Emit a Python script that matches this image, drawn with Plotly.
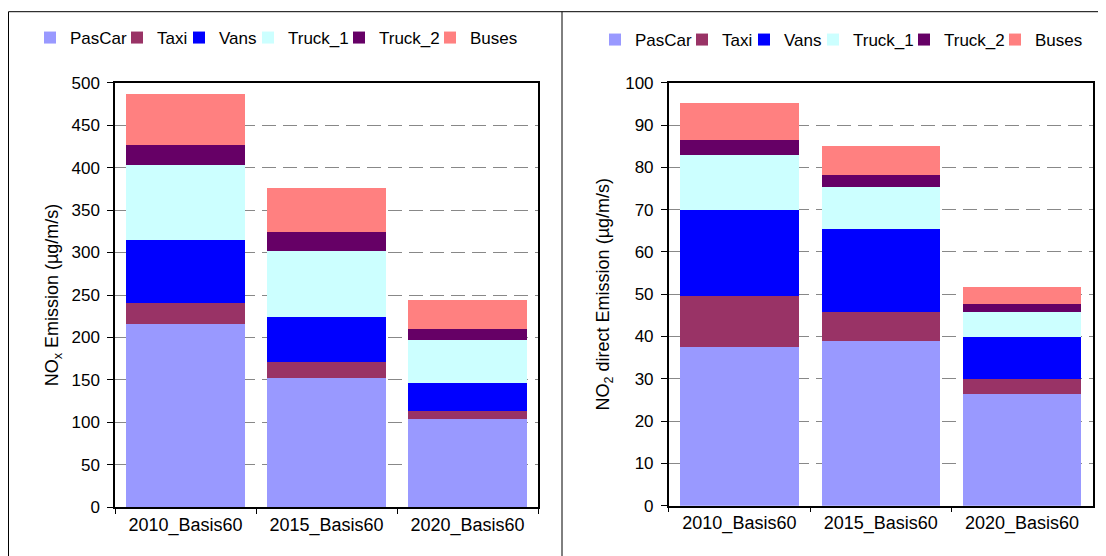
"""Stacked bar charts of NOx and NO2 direct emissions by vehicle type."""

import plotly.graph_objects as go

# Scenarios on the x axis
categories = ["2010_Basis60", "2015_Basis60", "2020_Basis60"]
vehicle_types = ["PasCar", "Taxi", "Vans", "Truck_1", "Truck_2", "Buses"]

# NOx emission (ug/m/s)
nox_pascar = [216, 152.5, 104]
nox_taxi = [25, 19, 9.5]
nox_vans = [74, 53, 33]
nox_truck1 = [88, 77, 51]
nox_truck2 = [24, 22.5, 13]
nox_buses = [60, 52, 34]

# NO2 direct emission (ug/m/s)
no2_pascar = [37.4, 39.0, 26.5]
no2_taxi = [12.1, 6.9, 3.4]
no2_vans = [20.3, 19.4, 10.1]
no2_truck1 = [13.1, 10.0, 5.9]
no2_truck2 = [3.5, 2.8, 1.9]
no2_buses = [8.8, 6.9, 4.0]

nox_series = [nox_pascar, nox_taxi, nox_vans, nox_truck1, nox_truck2, nox_buses]
no2_series = [no2_pascar, no2_taxi, no2_vans, no2_truck1, no2_truck2, no2_buses]

colors = ["#9999FF", "#993366", "#0000FF", "#CCFFFF", "#660066", "#FF8080"]
# legend entry widths so the items sit about as tight as in the original
legend_widths = [42, 17, 24, 46, 46, 47]

# the page body has an 8px margin, so the figure is drawn 8px in from the window edge
OFF = 8
W, H = 1106 - OFF, 556 - OFF
FONT = "Liberation Sans, Arial, sans-serif"


def px_x(p):
    """Window pixel column -> paper fraction."""
    return (p - OFF) / W


def px_y(p):
    """Window pixel row -> paper fraction."""
    return 1 - (p - OFF) / H


fig = go.Figure()

for name, vals, col, lw in zip(vehicle_types, nox_series, colors, legend_widths):
    fig.add_trace(
        go.Bar(
            x=categories, y=vals, name=name, marker=dict(color=col, line=dict(width=0)),
            xaxis="x", yaxis="y", legend="legend", legendwidth=lw,
        )
    )

for name, vals, col, lw in zip(vehicle_types, no2_series, colors, legend_widths):
    fig.add_trace(
        go.Bar(
            x=categories, y=vals, name=name, marker=dict(color=col, line=dict(width=0)),
            xaxis="x2", yaxis="y2", legend="legend2", legendwidth=lw,
        )
    )

xaxis_style = dict(
    showline=True, mirror=True, linecolor="black", linewidth=1.5,
    ticks="outside", tickson="boundaries", ticklen=5, tickcolor="black",
    showgrid=False, zeroline=False, automargin=False, ticklabelstandoff=0,
    tickfont=dict(size=18, color="black"),
)
yaxis_style = dict(
    showline=True, mirror=True, linecolor="black", linewidth=1.5,
    ticks="outside", ticklen=6, tickcolor="black", ticklabelstandoff=4,
    showgrid=True, gridcolor="#888888", gridwidth=1, griddash="14px,7px",
    zeroline=False, automargin=False,
    tickfont=dict(size=17, color="black"),
)

legend_style = dict(
    orientation="h", xanchor="left", yanchor="middle",
    font=dict(size=17, color="black"), bgcolor="rgba(0,0,0,0)",
    traceorder="normal",
)

fig.update_layout(
    width=W, height=H,
    margin=dict(l=0, r=0, t=0, b=0, autoexpand=False),
    paper_bgcolor="white", plot_bgcolor="white",
    font=dict(family=FONT, size=17, color="black"),
    barmode="stack", bargap=0.163,
    xaxis=dict(domain=[px_x(115), px_x(538)], anchor="y", **xaxis_style),
    yaxis=dict(
        domain=[px_y(507.3), px_y(82.7)], anchor="x", range=[0, 500], dtick=50,
        title=dict(text="NO<sub>x</sub> Emission (µg/m/s)", font=dict(size=18), standoff=8),
        **yaxis_style,
    ),
    xaxis2=dict(domain=[px_x(668.7), px_x(1092.7)], anchor="y2", **xaxis_style),
    yaxis2=dict(
        domain=[px_y(505.7), px_y(82.7)], anchor="x2", range=[0, 100], dtick=10,
        title=dict(text="NO<sub>2</sub> direct Emission (µg/m/s)", font=dict(size=18), standoff=11),
        **yaxis_style,
    ),
    legend=dict(x=px_x(30), y=px_y(38), **legend_style),
    legend2=dict(x=px_x(595), y=px_y(40), **legend_style),
    showlegend=True,
)

# Panel frames around each chart
frame = dict(type="line", xref="paper", yref="paper", line=dict(color="black", width=1))
fig.add_shape(x0=px_x(8.5), x1=px_x(8.5), y0=0, y1=px_y(11.7), **frame)
fig.add_shape(x0=px_x(8.5), x1=1, y0=px_y(11.7), y1=px_y(11.7), **frame)
fig.add_shape(x0=px_x(562), x1=px_x(562), y0=0, y1=px_y(11.7), **frame)

fig.write_html("out.html")
